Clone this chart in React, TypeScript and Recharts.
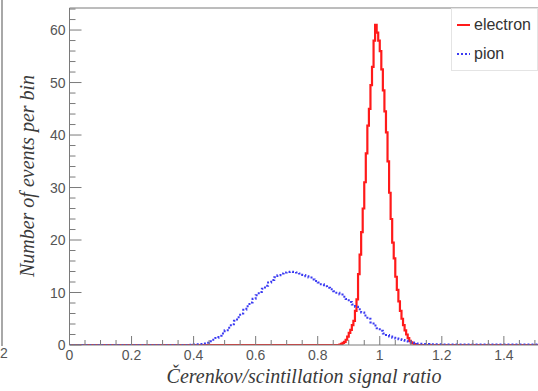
import React from 'react';
import { LineChart, Line, XAxis, YAxis, Legend, ReferenceLine } from 'recharts';

// ---- data ----
const X_MAX = 1.51;
const Y_MAX = 64.2;

const ELECTRON_BIN_WIDTH = 0.005;
const electronFirstBinCenter = 0.8675;
const electronCounts = [
  0, 0.1, 0.2, 0.4, 0.6, 1.0, 1.6, 2.3, 2.9, 3.8, 4.6, 6.5, 8.7, 13.5, 17.2,
  21.5, 26.0, 31.0, 36.5, 41.8, 45.0, 49.5, 53.0, 58.0, 61.0, 59.5, 58.0, 56.0,
  52.5, 48.5, 44.5, 40.5, 35.0, 29.0, 24.0, 19.5, 16.5, 13.0, 10.5, 8.3, 6.5,
  5.0, 3.8, 2.8, 2.0, 1.3, 0.8, 0.5, 0.3, 0.15, 0.05, 0,
];

const PION_BIN_WIDTH = 0.01;
const pionFirstBinCenter = 0.385;
const pionCounts = [
  0, 0.05, 0.1, 0.15, 0.2, 0.3, 0.45, 0.7, 1.0, 1.35, 1.75, 2.2, 2.8, 3.3,
  3.95, 4.6, 5.3, 6.0, 6.7, 7.4, 8.1, 8.8, 9.5, 10.1, 10.7, 11.3, 11.9, 12.4,
  12.9, 13.3, 13.6, 13.8, 13.9, 13.95, 13.9, 13.8, 13.6, 13.35, 13.1, 12.85,
  12.5, 12.2, 11.9, 11.55, 11.2, 10.9, 10.6, 10.25, 9.95, 9.6, 9.2, 8.75, 8.2,
  7.7, 7.3, 6.8, 6.2, 5.6, 5.0, 4.3, 3.7, 3.2, 2.7, 2.2, 1.9, 1.6, 1.4, 1.25,
  1.1, 0.95, 0.8, 0.65, 0.5, 0.4, 0.3, 0.25, 0.2, 0.18, 0.15, 0.15, 0.12,
  0.12, 0.1,
];
const pionTailEnd = 0.08;

const xTicks = [
  0, 0.05, 0.1, 0.15, 0.2, 0.25, 0.3, 0.35, 0.4, 0.45, 0.5, 0.55, 0.6, 0.65,
  0.7, 0.75, 0.8, 0.85, 0.9, 0.95, 1, 1.05, 1.1, 1.15, 1.2, 1.25, 1.3, 1.35,
  1.4, 1.45, 1.5,
];
const xMajorTicks = [0, 0.2, 0.4, 0.6, 0.8, 1, 1.2, 1.4];
const xMajorLabels = ['0', '0.2', '0.4', '0.6', '0.8', '1', '1.2', '1.4'];

const yTicks = [
  0, 2, 4, 6, 8, 10, 12, 14, 16, 18, 20, 22, 24, 26, 28, 30, 32, 34, 36, 38,
  40, 42, 44, 46, 48, 50, 52, 54, 56, 58, 60, 62, 64,
];
const yMajorTicks = [0, 10, 20, 30, 40, 50, 60];

const seriesNames = ['electron', 'pion'];
const xTitle = 'Čerenkov/scintillation signal ratio';
const yTitle = 'Number of events per bin';

// ---- build tables ----
const electronData = [
  { x: 0, y: 0 },
  ...electronCounts.map((c, i) => ({ x: electronFirstBinCenter + i * ELECTRON_BIN_WIDTH, y: c })),
  { x: X_MAX, y: 0 },
];
const pionData = [
  { x: 0, y: 0 },
  ...pionCounts.map((c, i) => ({ x: pionFirstBinCenter + i * PION_BIN_WIDTH, y: c })),
  { x: X_MAX, y: pionTailEnd },
];

// ---- styles ----
const AXIS_COLOR = '#7a7a7a';
const LABEL_COLOR = '#555';
const RED = '#ff1a1a';
const BLUE = '#3b3bf2';
const NUM_FONT = '"Liberation Sans", Arial, sans-serif';
const TITLE_FONT = '"Liberation Serif", "Times New Roman", serif';

const findIndex = (arr: number[], v: number) => arr.findIndex((m) => Math.abs(m - v) < 1e-6);

const XTick = (props: any) => {
  const { x, y, payload } = props;
  const idx = findIndex(xMajorTicks, payload.value);
  const major = idx >= 0;
  return (
    <g>
      <line x1={x} x2={x} y1={y} y2={y - (major ? 9 : 5)} stroke={AXIS_COLOR} strokeWidth={1} />
      {major && (
        <text x={x} y={y + 15} textAnchor="middle" fontSize={14} fontFamily={NUM_FONT} fill={LABEL_COLOR}>
          {xMajorLabels[idx]}
        </text>
      )}
    </g>
  );
};

const YTick = (props: any) => {
  const { x, y, payload } = props;
  const major = findIndex(yMajorTicks, payload.value) >= 0;
  return (
    <g>
      <line x1={x} x2={x + (major ? 12 : 6)} y1={y} y2={y} stroke={AXIS_COLOR} strokeWidth={1} />
      {major && (
        <text x={x - 4} y={y} dy="0.36em" textAnchor="end" fontSize={14} fontFamily={NUM_FONT} fill={LABEL_COLOR}>
          {payload.value}
        </text>
      )}
    </g>
  );
};

const LegendBox = () => (
  <div style={{ width: 87, height: 63, background: '#fff', border: '1px solid #e4e4e4', boxSizing: 'border-box' }}>
    <svg width={86} height={62}>
      <line x1={5} x2={18} y1={16} y2={16} stroke={RED} strokeWidth={2} />
      <text x={22} y={21} fontSize={16} fontFamily={NUM_FONT} fill="#333">{seriesNames[0]}</text>
      <line x1={5} x2={18} y1={45} y2={45} stroke={BLUE} strokeWidth={2} strokeDasharray="2 2" />
      <text x={22} y={50} fontSize={16} fontFamily={NUM_FONT} fill="#333">{seriesNames[1]}</text>
    </svg>
  </div>
);

export default function App() {
  return (
    <div style={{ position: 'absolute', left: 0, top: 0, width: 538, height: 391, overflow: 'hidden', background: '#fff' }}>
      <div style={{ position: 'absolute', left: 1, top: 0, width: 1.5, height: 346, background: '#a8a8a8' }} />
      <span
        style={{ position: 'absolute', left: 0, top: 345, fontSize: 14, fontFamily: NUM_FONT, color: LABEL_COLOR, lineHeight: '16px' }}
      >
        2
      </span>
      <div style={{ position: 'absolute', left: 0, top: 0 }}>
        <LineChart width={538} height={391} margin={{ top: 8, right: 0, bottom: 0, left: 0 }}>
          <XAxis
            type="number"
            dataKey="x"
            domain={[0, X_MAX]}
            allowDataOverflow
            ticks={xTicks}
            interval={0}
            tickSize={0}
            tickMargin={0}
            tickLine={false}
            tick={<XTick />}
            axisLine={{ stroke: AXIS_COLOR }}
            height={46}
            label={{
              content: () => (
                <text x={304} y={383} textAnchor="middle" fontSize={20} fontStyle="italic" fontFamily={TITLE_FONT} fill="#3a3a3a">
                  {xTitle}
                </text>
              ),
            }}
          />
          <YAxis
            type="number"
            domain={[0, Y_MAX]}
            allowDataOverflow
            ticks={yTicks}
            interval={0}
            tickSize={0}
            tickMargin={0}
            tickLine={false}
            tick={<YTick />}
            axisLine={{ stroke: AXIS_COLOR }}
            width={69.5}
            label={{
              content: () => (
                <text
                  x={34}
                  y={176}
                  transform="rotate(-90, 34, 176)"
                  textAnchor="middle"
                  fontSize={20}
                  fontStyle="italic"
                  fontFamily={TITLE_FONT}
                  fill="#3a3a3a"
                >
                  {yTitle}
                </text>
              ),
            }}
          />
          <ReferenceLine y={Y_MAX} stroke={AXIS_COLOR} strokeWidth={1} />
          <Line
            data={electronData}
            dataKey="y"
            name={seriesNames[0]}
            type="step"
            stroke={RED}
            strokeWidth={2.2}
            dot={false}
            isAnimationActive={false}
          />
          <Line
            data={pionData}
            dataKey="y"
            name={seriesNames[1]}
            type="step"
            stroke={BLUE}
            strokeWidth={2}
            strokeDasharray="2 2"
            dot={false}
            isAnimationActive={false}
          />
          <Legend
            layout="horizontal"
            verticalAlign="middle"
            align="center"
            content={() => <LegendBox />}
            wrapperStyle={{ top: 8, left: 451, width: 87, height: 63 }}
          />
        </LineChart>
      </div>
    </div>
  );
}
